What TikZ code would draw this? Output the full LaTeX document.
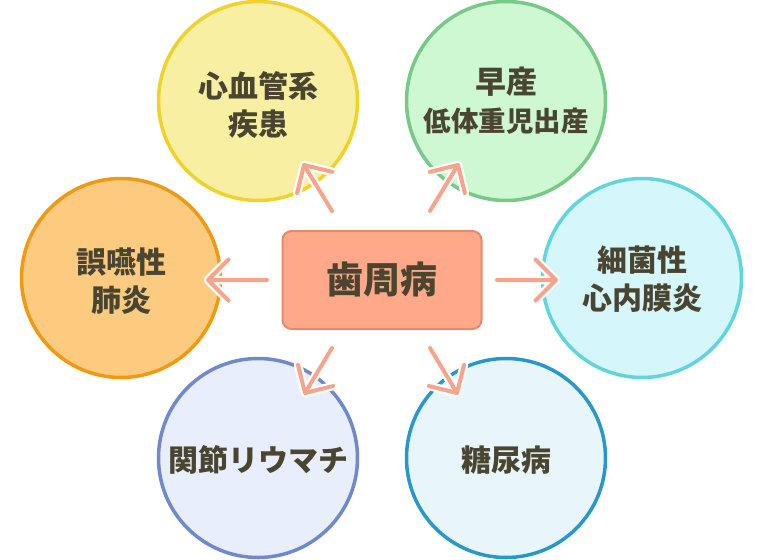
\documentclass[tikz,border=0pt]{standalone}
\usepackage{fontspec}
\newfontfamily\jp{Noto Sans CJK JP}
\usetikzlibrary{calc}
\definecolor{txt}{HTML}{4A4530}
\definecolor{yf}{HTML}{F9EFA2}
\definecolor{yb}{HTML}{F0D22C}
\definecolor{gf}{HTML}{CDF8D2}
\definecolor{gb}{HTML}{78C888}
\definecolor{of}{HTML}{FDCB80}
\definecolor{ob}{HTML}{EE9A12}
\definecolor{cf}{HTML}{D5F6FA}
\definecolor{cb}{HTML}{62D4DC}
\definecolor{bf}{HTML}{E8EEFC}
\definecolor{bb}{HTML}{7088CC}
\definecolor{lf}{HTML}{E8F6FC}
\definecolor{lb}{HTML}{2898CC}
\definecolor{boxf}{HTML}{FFA98A}
\definecolor{boxd}{HTML}{E8886C}
\definecolor{arrowc}{HTML}{F7A48C}
\tikzset{
  disease/.style={circle, minimum size=199pt, inner sep=0pt, line width=3.5pt,
    align=center, text=txt, font=\jp\bfseries\fontsize{30}{38}\selectfont},
  halo/.style={white, line width=8.5pt, line cap=round, line join=round},
  arr/.style={arrowc, line width=4pt, line cap=round, line join=round}
}
\newcommand\lift[1]{\rule{0pt}{#1pt}}
\newcommand\sketcharrow[2]{%
  \draw[halo] (#1) -- (#2) ($(#2)!29pt!45:(#1)$) -- (#2) -- ($(#2)!29pt!-45:(#1)$);
  \draw[arr] (#1) -- (#2) ($(#2)!29pt!45:(#1)$) -- (#2) -- ($(#2)!29pt!-45:(#1)$);
}
\begin{document}
\begin{tikzpicture}[x=1pt,y=-1pt]
\useasboundingbox (0,0) rectangle (764,560);
\fill[white] (0,0) rectangle (764,560);
\node[disease, draw=yb, fill=yf] (cv) at (258,101) {\lift{34}心血管系\\疾患};
\node[disease, draw=gb, fill=gf] (pb) at (506,101) {{\fontsize{31}{38}\selectfont 早産}\\{\fontsize{27.5}{38}\selectfont 低体重児出産}};
\node[disease, draw=ob, fill=of] (ap) at (121,278) {\lift{31}誤嚥性\\肺炎};
\node[disease, draw=cb, fill=cf] (ie) at (642,278) {\lift{27}細菌性\\心内膜炎};
\node[disease, draw=bb, fill=bf] (ra) at (258,458) {\lift{29}関節リウマチ};
\node[disease, draw=lb, fill=lf] (dm) at (506,458) {\lift{30}糖尿病};
\node[draw=boxd, fill=boxf, rounded corners=9pt, line width=2pt, minimum width=199pt,
  minimum height=98pt, text=txt, font=\jp\bfseries\fontsize{37}{44}\selectfont] (pd) at (382,280) {歯周病};
\coordinate (t1) at (332,211); \coordinate (h1) at (304,165);
\coordinate (t2) at (430,211); \coordinate (h2) at (458,165);
\coordinate (t3) at (267,280); \coordinate (h3) at (208,280);
\coordinate (t4) at (497,280); \coordinate (h4) at (556,280);
\coordinate (t5) at (332,348); \coordinate (h5) at (305,393);
\coordinate (t6) at (430,348); \coordinate (h6) at (457,393);
\sketcharrow{t1}{h1}
\sketcharrow{t2}{h2}
\sketcharrow{t3}{h3}
\sketcharrow{t4}{h4}
\sketcharrow{t5}{h5}
\sketcharrow{t6}{h6}
\end{tikzpicture}
\end{document}
